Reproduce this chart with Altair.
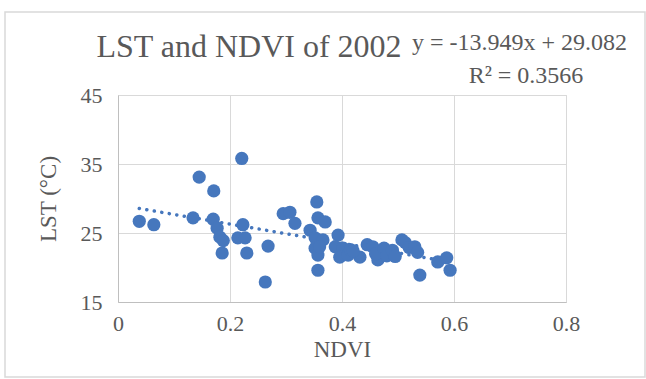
import altair as alt
import pandas as pd

ndvi = [0.038, 0.064, 0.134, 0.145, 0.171, 0.170, 0.177, 0.182, 0.188, 0.186,
        0.223, 0.214, 0.227, 0.230, 0.221, 0.268, 0.263, 0.295, 0.307, 0.316,
        0.355, 0.357, 0.370, 0.343, 0.352, 0.366, 0.352, 0.357, 0.357, 0.393,
        0.388, 0.402, 0.396, 0.411, 0.432, 0.445, 0.455, 0.464, 0.415, 0.460,
        0.475, 0.480, 0.490, 0.495, 0.507, 0.513, 0.520, 0.530, 0.535, 0.539,
        0.571, 0.587, 0.593, 0.360, 0.420]
lst = [26.7, 26.2, 27.2, 33.1, 31.1, 27.0, 25.7, 24.4, 23.9, 22.1,
       26.2, 24.3, 24.3, 22.1, 35.8, 23.1, 17.9, 27.8, 28.0, 26.4,
       29.5, 27.2, 26.6, 25.4, 24.3, 24.0, 22.8, 21.8, 19.6, 24.7,
       23.0, 22.8, 21.5, 21.8, 21.5, 23.3, 23.0, 21.1, 22.6, 22.0,
       22.8, 21.7, 22.5, 21.6, 24.0, 23.6, 22.9, 23.0, 22.2, 18.9,
       20.8, 21.4, 19.6, 23.0, 22.4]

slope = -13.949
intercept = 29.082
title_text = ["LST and NDVI of 2002"]
eq_text = ["y = -13.949x + 29.082"]
r2_text = ["R\u00b2 = 0.3566"]

FONT = "Liberation Serif"
BLUE = "#4677BD"
GRAY = "#595959"

df = pd.DataFrame({"NDVI": ndvi, "LST": lst})
xs = [min(ndvi), max(ndvi)]
trend = pd.DataFrame({"NDVI": xs, "LST": [intercept + slope * v for v in xs]})

xscale = alt.Scale(domain=[0, 0.8], nice=False)
yscale = alt.Scale(domain=[15, 45], nice=False, zero=False)

xaxis = alt.Axis(values=[0, 0.2, 0.4, 0.6, 0.8], format="~g", title="NDVI", ticks=False,
                 labelFont=FONT, labelFontSize=22, labelColor=GRAY, labelPadding=11,
                 titleFont=FONT, titleFontSize=23, titleColor=GRAY, titleFontWeight="normal",
                 titlePadding=4, domainColor="#bfbfbf", gridColor="#d9d9d9",
                 labelFlush=False)
yaxis = alt.Axis(values=[15, 25, 35, 45], title="LST (\u00b0C)", ticks=False,
                 labelFont=FONT, labelFontSize=22, labelColor=GRAY, labelPadding=16,
                 titleFont=FONT, titleFontSize=23, titleColor=GRAY, titleFontWeight="normal",
                 titlePadding=20, domainColor="#bfbfbf", gridColor="#d9d9d9",
                 labelFlush=False)

points = alt.Chart(df).mark_circle(size=175, color=BLUE, opacity=1).encode(
    x=alt.X("NDVI:Q", scale=xscale, axis=xaxis),
    y=alt.Y("LST:Q", scale=yscale, axis=yaxis),
)

line = alt.Chart(trend).mark_line(color=BLUE, strokeWidth=3.5, strokeDash=[0.1, 7.5],
                                  strokeCap="round").encode(
    x=alt.X("NDVI:Q", scale=xscale),
    y=alt.Y("LST:Q", scale=yscale),
)

title = alt.Chart(pd.DataFrame({"t": title_text})).mark_text(
    font=FONT, fontSize=32, color=GRAY, align="center", baseline="alphabetic"
).encode(text="t:N", x=alt.value(131), y=alt.value(-38))

eq = alt.Chart(pd.DataFrame({"t": eq_text})).mark_text(
    font=FONT, fontSize=24, color=GRAY, align="left", baseline="alphabetic"
).encode(text="t:N", x=alt.value(294), y=alt.value(-45))

r2 = alt.Chart(pd.DataFrame({"t": r2_text})).mark_text(
    font=FONT, fontSize=24, color=GRAY, align="center", baseline="alphabetic"
).encode(text="t:N", x=alt.value(408), y=alt.value(-12))

frame = alt.Chart(pd.DataFrame({"a": [0]})).mark_rect(
    fill=None, stroke="#d9d9d9", strokeWidth=1.5
).encode(x=alt.value(-113), x2=alt.value(527), y=alt.value(-83), y2=alt.value(282))

chart = alt.layer(frame, line, points, title, eq, r2).properties(
    width=448, height=207,
    autosize=alt.AutoSizeParams(type="none"),
    padding={"left": 118, "top": 95, "right": 80, "bottom": 77},
    background="white",
).configure_view(stroke="#d9d9d9")

chart.save("out.html", embed_options={"renderer": "svg", "actions": False})
